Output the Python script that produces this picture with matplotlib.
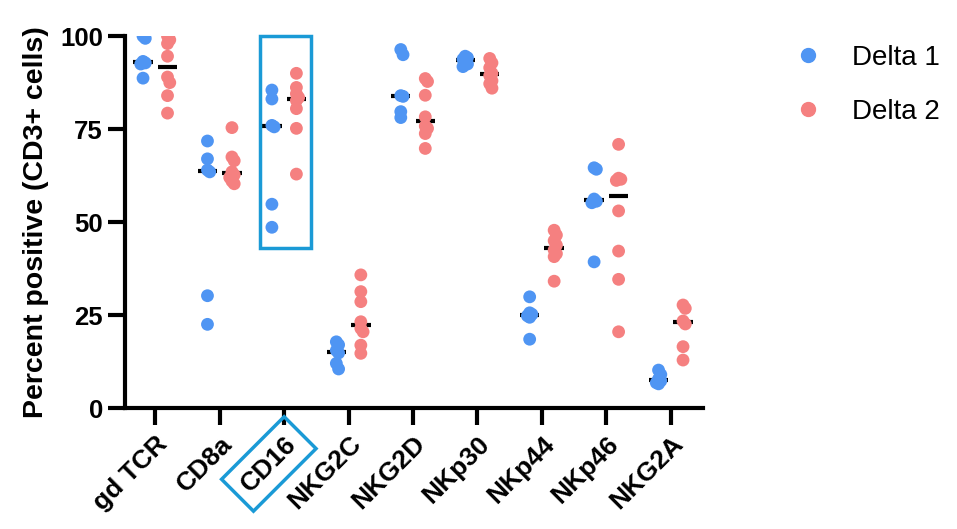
import matplotlib
matplotlib.use("Agg")
import matplotlib.pyplot as plt
from matplotlib.patches import Rectangle
from matplotlib.lines import Line2D
import numpy as np

plt.rcParams['font.family'] = ['Liberation Sans', 'DejaVu Sans']

markers = ['gd TCR', 'CD8a', 'CD16', 'NKG2C', 'NKG2D', 'NKp30', 'NKp44', 'NKp46', 'NKG2A']

# percent positive, Delta 1 population
delta1 = [
    [100, 99.4, 93.2, 92.8, 92.5, 88.7],
    [71.8, 67.0, 64.0, 63.5, 30.2, 22.5],
    [85.5, 83.1, 76.0, 75.6, 54.8, 48.6],
    [17.8, 17.0, 15.5, 14.8, 12.0, 10.5],
    [96.4, 95.0, 84.0, 83.8, 79.7, 78.1],
    [94.6, 94.2, 93.8, 93.2, 92.5, 91.8],
    [29.9, 25.6, 25.2, 24.8, 24.4, 18.5],
    [64.6, 64.2, 56.2, 55.6, 55.2, 39.3],
    [10.2, 9.0, 7.8, 7.3, 6.8, 6.5],
]

# percent positive, Delta 2 population
delta2 = [
    [100, 99.0, 98.0, 94.6, 89.0, 87.5, 84.0, 79.3],
    [75.4, 67.5, 66.5, 63.5, 62.7, 62.0, 61.0, 60.3],
    [90.0, 86.2, 84.5, 83.5, 82.7, 80.5, 75.2, 62.9],
    [35.8, 31.3, 28.6, 23.2, 21.4, 20.5, 16.9, 14.7],
    [88.6, 87.8, 84.1, 78.3, 75.8, 75.2, 73.8, 69.8],
    [94.0, 92.8, 91.5, 90.0, 89.4, 88.0, 87.2, 86.0],
    [47.8, 46.5, 45.0, 43.8, 42.5, 41.5, 40.7, 34.1],
    [70.9, 61.8, 61.5, 61.2, 53.0, 42.2, 34.6, 20.5],
    [27.7, 26.8, 23.4, 22.6, 16.5, 12.9],
]

blue = '#4f95f3'
red = '#f58080'
box_blue = '#1a9ad6'


def swarm(vals, center, dy=1.6, dx=0.035):
    # small deterministic nudge so near-identical dots don't fully hide each other
    xs = []
    placed = []
    for v in vals:
        k = 0
        for c in [0, 1, -1]:
            x = center + c * dx
            if all(abs(v - pv) > dy or abs(x - px) > dx * 0.9 for px, pv in placed):
                k = c
                break
        x = center + k * dx
        placed.append((x, v))
        xs.append(x)
    return xs


fig = plt.figure(figsize=(9.57, 5.29), dpi=100)
ax = fig.add_axes([0.1306, 0.2287, 0.604, 0.703])

off = 0.19
for i in range(len(markers)):
    for vals, sgn, col in [(delta1[i], -1, blue), (delta2[i], 1, red)]:
        c = i + sgn * off
        xs = swarm(vals, c)
        ax.scatter(xs, vals, s=85, color=col, edgecolors='none', zorder=3)
        m = np.median(vals)
        ax.plot([c - 0.15, c + 0.15], [m, m], color='black', lw=3, zorder=2,
                solid_capstyle='butt')

ax.add_patch(Rectangle((1.63, 43), 0.79, 57, fill=False, edgecolor=box_blue,
                       lw=2.5, zorder=5, clip_on=False))

ax.set_xlim(-0.47, 8.5)
ax.set_ylim(0, 100)
ax.set_yticks([0, 25, 50, 75, 100])
ax.set_xticks(range(len(markers)))
ax.set_xticklabels(markers, rotation=45, ha='right', rotation_mode='anchor')
for sp in ['top', 'right']:
    ax.spines[sp].set_visible(False)
for sp in ['left', 'bottom']:
    ax.spines[sp].set_linewidth(3)
ax.tick_params(axis='y', width=3, length=12, labelsize=18.5, direction='out', pad=4)
ax.tick_params(axis='x', width=3, length=12, labelsize=19, direction='out', pad=5)
for lab in ax.get_xticklabels() + ax.get_yticklabels():
    lab.set_fontweight('bold')
ax.get_xticklabels()[2].set_bbox(dict(boxstyle='square,pad=0.4', fc='none',
                                      ec=box_blue, lw=2.5))
ax.set_ylabel('Percent positive (CD3+ cells)', fontsize=20.5, fontweight='bold',
              labelpad=8)

handles = [Line2D([], [], marker='o', ls='none', color=blue, markersize=10),
           Line2D([], [], marker='o', ls='none', color=red, markersize=10)]
fig.legend(handles, ['Delta 1', 'Delta 2'], loc='upper left',
           bbox_to_anchor=(794 / 957, 0.915), frameon=False, fontsize=20,
           handlelength=1.0, borderpad=0, borderaxespad=0,
           handletextpad=1.09, labelspacing=1.0)

fig.savefig('out.png', dpi=100)
